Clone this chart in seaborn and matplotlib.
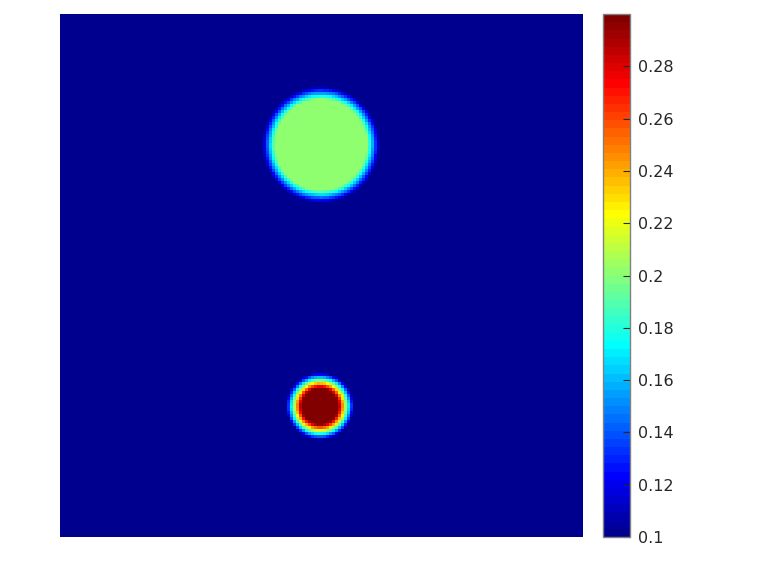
import numpy as np
import seaborn as sns
import matplotlib.pyplot as plt
from matplotlib.colors import ListedColormap

# field description (unit square, y measured from top)
grid_n = 175
background = 0.1
disc_x = [0.499, 0.497]
disc_y = [0.250, 0.750]
disc_r = [0.100, 0.050]
disc_level = [0.2, 0.3]
edge_width = [0.024, 0.030]

cbar_ticks = [0.1, 0.12, 0.14, 0.16, 0.18, 0.2, 0.22, 0.24, 0.26, 0.28]
cbar_labels = ['0.1', '0.12', '0.14', '0.16', '0.18', '0.2', '0.22', '0.24', '0.26', '0.28']


def matlab_jet(m=64):
    n = int(np.ceil(m / 4))
    u = np.concatenate([np.arange(1, n + 1) / n, np.ones(n - 1), np.arange(n, 0, -1) / n])
    g = int(np.ceil(n / 2)) - (1 if m % 4 == 1 else 0) + np.arange(1, len(u) + 1)
    r = g + n
    b = g - n
    J = np.zeros((m, 3))
    for idx, ch in ((r, 0), (g, 1), (b, 2)):
        ok = (idx >= 1) & (idx <= m)
        J[idx[ok] - 1, ch] = u[ok]
    return ListedColormap(J)


def build_field():
    c = (np.arange(grid_n) + 0.5) / grid_n
    xx, yy = np.meshgrid(c, c)
    field = np.full((grid_n, grid_n), background)
    for cx, cy, r, lev, w in zip(disc_x, disc_y, disc_r, disc_level, edge_width):
        d = np.hypot(xx - cx, yy - cy)
        frac = np.clip((r - d) / w + 0.5, 0, 1)
        field = np.maximum(field, background + (lev - background) * frac)
    return field


def main():
    field = build_field()

    fig = plt.figure(figsize=(7.68, 5.76), dpi=100)
    ax = fig.add_axes([60 / 768, 39 / 576, 523 / 768, 523 / 576])
    cax = fig.add_axes([603 / 768, 39 / 576, 27 / 768, 523 / 576])

    sns.heatmap(field, ax=ax, cbar_ax=cax, cmap=matlab_jet(64), vmin=0.1, vmax=0.3,
                xticklabels=False, yticklabels=False, rasterized=True)
    ax.set_xticks([])
    ax.set_yticks([])

    cax.set_yticks(cbar_ticks)
    cax.set_yticklabels(cbar_labels)
    cax.tick_params(axis='y', direction='in', length=5, width=0.8,
                    labelsize=11.5, colors='#262626', pad=6)
    cbar = ax.collections[0].colorbar
    cbar.outline.set_visible(True)
    cbar.outline.set_edgecolor('#808080')
    cbar.outline.set_linewidth(1.0)

    fig.savefig('out.png', dpi=100)


if __name__ == '__main__':
    main()
